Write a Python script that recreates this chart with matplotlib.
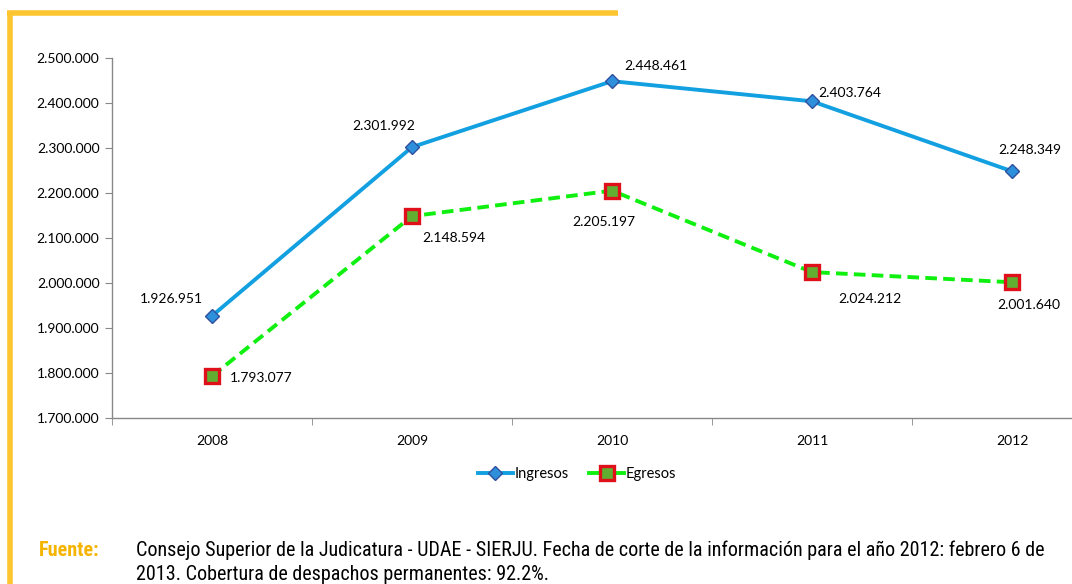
import matplotlib.pyplot as plt
from matplotlib.lines import Line2D

years = ['2008', '2009', '2010', '2011', '2012']
ingresos = [1926951, 2301992, 2448461, 2403764, 2248349]
egresos = [1793077, 2148594, 2205197, 2024212, 2001640]
y_ticks = [1700000, 1800000, 1900000, 2000000, 2100000, 2200000, 2300000, 2400000, 2500000]

# label offsets in pixels (dx, dy)
ing_off = [(-41, 17), (-28, 21), (44, 15), (38, 8), (18, 21)]
egr_off = [(49, -2), (42, -22), (-8, -31), (58, -27), (17, -23)]


def fmt(v):
    return f'{v:,}'.replace(',', '.')


plt.rcParams['font.family'] = ['Lato', 'DejaVu Sans']

fig = plt.figure(figsize=(10.72, 5.84), dpi=100)
ax = fig.add_axes([112 / 1072, 1 - 418 / 584, 1000 / 1072, 360 / 584])

x = list(range(1, len(years) + 1))
blue = '#12A0E0'
ax.plot(x, ingresos, color=blue, lw=2.8, marker='D', ms=7,
        mfc='#2E90DA', mec='#2F4F9F', mew=1, label='Ingresos', zorder=3)
ax.plot(x, egresos, color='#10F010', lw=2.8, ls=(0, (3, 1.6)), marker='s', ms=9.5,
        mfc='#62AE30', mec='#E0101A', mew=2.4, label='Egresos', zorder=3)

for xi, v, o in zip(x, ingresos, ing_off):
    ax.annotate(fmt(v), (xi, v), xytext=o, textcoords='offset pixels',
                ha='center', va='center', fontsize=10)
for xi, v, o in zip(x, egresos, egr_off):
    ax.annotate(fmt(v), (xi, v), xytext=o, textcoords='offset pixels',
                ha='center', va='center', fontsize=10)

ax.set_xlim(0.5, 5.5)
ax.set_ylim(1700000, 2500000)
ax.set_yticks(y_ticks)
ax.set_yticklabels([fmt(v) for v in y_ticks], fontsize=10)
ax.set_xticks(x)
ax.set_xticklabels(years, fontsize=10)
ax.set_xticks([i + 0.5 for i in range(0, 6)], minor=True)
ax.tick_params(axis='x', which='major', length=0, pad=12)
ax.tick_params(axis='x', which='minor', length=5, color='#888888')
ax.tick_params(axis='y', length=5, color='#888888', pad=4)
for s in ['top', 'right']:
    ax.spines[s].set_visible(False)
for s in ['left', 'bottom']:
    ax.spines[s].set_color('#888888')
    ax.spines[s].set_linewidth(1)

h1 = Line2D([], [], color=blue, lw=2.8, marker='D', ms=7, mfc='#2E90DA', mec='#2F4F9F')
h2 = Line2D([], [], color='#10F010', lw=2.8, marker='s', ms=9.5, mfc='#62AE30', mec='#E0101A', mew=2.4)
fig.legend([h1, h2], ['Ingresos', 'Egresos'], loc='center', bbox_to_anchor=(577 / 1072, 1 - 474 / 584),
           ncol=2, frameon=False, fontsize=10.5, handlelength=2.4, handletextpad=0.1,
           columnspacing=1.4)

# yellow frame
yellow = '#FDC530'
fig.add_artist(Line2D([7 / 1072, 618 / 1072], [1 - 13 / 584] * 2, color=yellow, lw=4,
                      transform=fig.transFigure, solid_capstyle='butt'))
fig.add_artist(Line2D([9.5 / 1072] * 2, [1 - 11 / 584, 0], color=yellow, lw=4,
                      transform=fig.transFigure, solid_capstyle='butt'))

foot = dict(family=['Roboto Condensed', 'DejaVu Sans'], fontsize=14.5, va='baseline')
fig.text(100 / 1072, 1 - 556 / 584, 'Fuente:', color='#F5B400', fontweight='bold',
         ha='right', **foot)
fig.text(136 / 1072, 1 - 556 / 584,
         'Consejo Superior de la Judicatura - UDAE - SIERJU. Fecha de corte de la información para el año 2012: febrero 6 de',
         **foot)
fig.text(136 / 1072, 1 - 580 / 584,
         '2013. Cobertura de despachos permanentes: 92.2%.', **foot)

fig.savefig('out.png', dpi=100)
